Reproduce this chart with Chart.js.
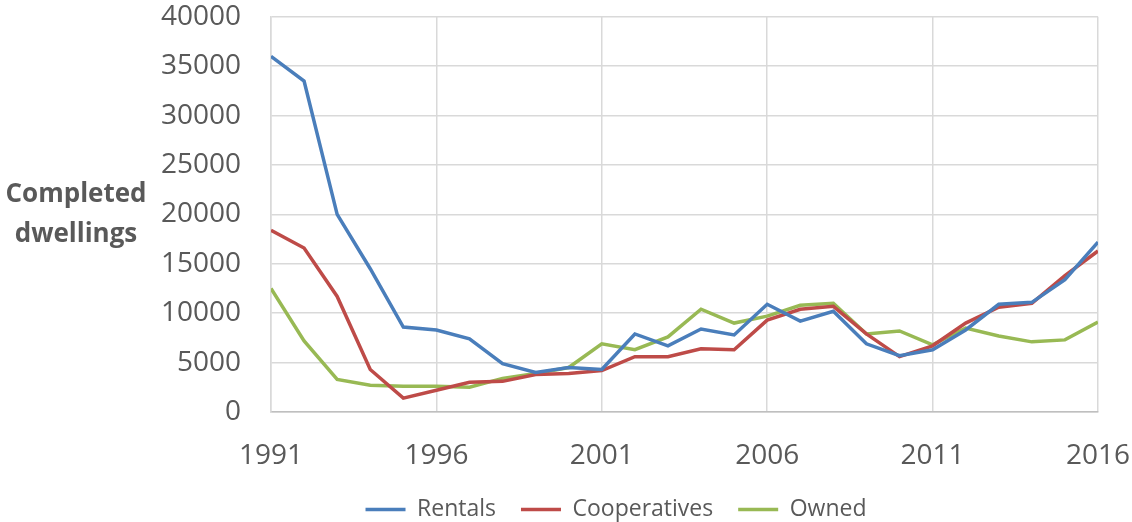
<!DOCTYPE html>
<html lang="en">
<head>
<meta charset="UTF-8">
<title>Completed dwellings 1991-2016</title>
<style>
  html, body { margin: 0; padding: 0; background: #fff; }
  #wrap { position: relative; width: 1132px; height: 522px; }
</style>
<script src="https://cdn.jsdelivr.net/npm/chart.js"></script>
</head>
<body>
<div id="wrap"><canvas id="dwellingsChart" width="1132" height="522"></canvas></div>
<script>
const years = [1991, 1992, 1993, 1994, 1995, 1996, 1997, 1998, 1999, 2000, 2001, 2002, 2003,
  2004, 2005, 2006, 2007, 2008, 2009, 2010, 2011, 2012, 2013, 2014, 2015, 2016];

const rentals = [36000, 33500, 20000, 14500, 8600, 8300, 7400, 4900, 4000, 4500, 4300, 7900, 6700,
  8400, 7800, 10900, 9200, 10200, 6900, 5700, 6300, 8300, 10900, 11100, 13400, 17200];
const cooperatives = [18400, 16600, 11700, 4300, 1400, 2200, 3000, 3100, 3800, 3900, 4200, 5600, 5600,
  6400, 6300, 9300, 10400, 10700, 7900, 5600, 6700, 9000, 10600, 11000, 13800, 16300];
const owned = [12500, 7200, 3300, 2700, 2600, 2600, 2500, 3400, 3900, 4500, 6900, 6300, 7600,
  10400, 9000, 9700, 10800, 11000, 7900, 8200, 6800, 8500, 7700, 7100, 7300, 9100];

const seriesNames = ['Rentals', 'Cooperatives', 'Owned'];
const seriesColors = ['#4a7ebb', '#be4b48', '#98b954'];
const yTitleLines = ['Completed', 'dwellings'];

const textColor = '#595959';
const fontFamily = "'Open Sans', 'Liberation Sans', sans-serif";

// horizontal y-axis title, drawn left of the tick labels
const yTitlePlugin = {
  id: 'yTitle',
  afterDraw(chart) {
    const ctx = chart.ctx;
    ctx.save();
    ctx.fillStyle = textColor;
    ctx.font = "bold 26px " + fontFamily;
    ctx.textAlign = 'center';
    ctx.textBaseline = 'middle';
    ctx.fillText(yTitleLines[0], 76, 195);
    ctx.fillText(yTitleLines[1], 76, 235);
    ctx.restore();
  }
};

const datasets = [rentals, cooperatives, owned].map((vals, i) => ({
  label: seriesNames[i],
  data: years.map((yr, j) => ({ x: yr, y: vals[j] })),
  borderColor: seriesColors[i],
  backgroundColor: seriesColors[i],
  borderWidth: 3.5,
  pointRadius: 0,
  tension: 0,
  fill: false
}));

new Chart(document.getElementById('dwellingsChart'), {
  type: 'line',
  data: { datasets },
  options: {
    responsive: false,
    animation: false,
    layout: { padding: { top: 0, right: 0, bottom: -9, left: 100 } },
    plugins: {
      tooltip: { enabled: false },
      legend: {
        position: 'bottom',
        labels: {
          color: textColor,
          font: { family: fontFamily, size: 23 },
          usePointStyle: true,
          pointStyle: 'line',
          pointStyleWidth: 40,
          padding: 25
        }
      }
    },
    scales: {
      x: {
        type: 'linear',
        min: 1991,
        max: 2016,
        // transparent tick marks push the labels down without widening the side padding
        grid: { color: '#d9d9d9', lineWidth: 1.5, drawTicks: true, tickLength: 25, tickColor: 'rgba(0,0,0,0)' },
        border: { color: '#bfbfbf', width: 1.5 },
        ticks: {
          stepSize: 5,
          color: textColor,
          font: { family: fontFamily, size: 28 },
          padding: 2,
          maxRotation: 0,
          callback: v => String(v)
        },
        afterFit: s => { s.height = 61; }
      },
      y: {
        min: 0,
        max: 40000,
        grid: { color: '#d9d9d9', lineWidth: 1.5, drawTicks: true, tickLength: 30, tickColor: 'rgba(0,0,0,0)' },
        border: { color: '#d9d9d9', width: 1.5 },
        ticks: {
          stepSize: 5000,
          color: textColor,
          font: { family: fontFamily, size: 28 },
          padding: 0,
          callback: v => String(v)
        },
        afterFit: s => { s.width = 171; }
      }
    }
  },
  plugins: [yTitlePlugin]
});
</script>
</body>
</html>
